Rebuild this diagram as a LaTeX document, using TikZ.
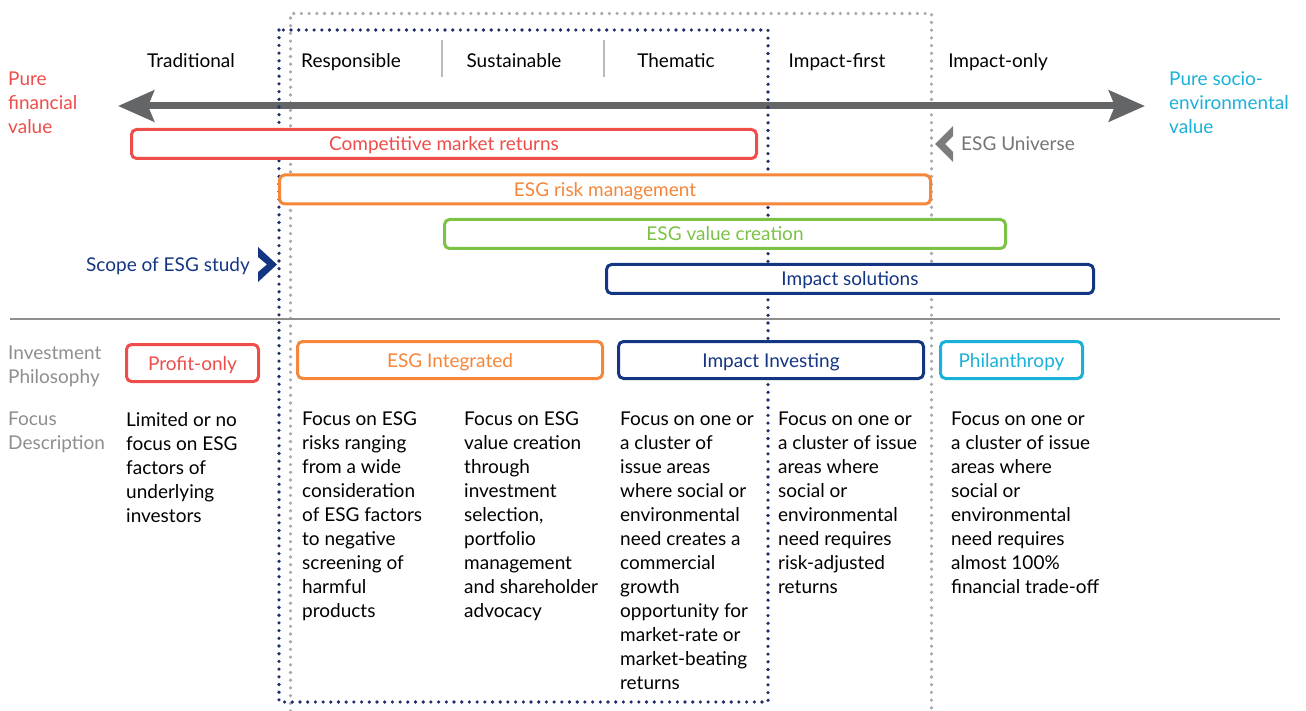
\documentclass[tikz,border=0pt]{standalone}
\usepackage{fontspec}
\setmainfont{Lato}
\usetikzlibrary{arrows.meta}

\definecolor{esgred}{HTML}{EE4D4A}
\definecolor{esgorange}{HTML}{F5863A}
\definecolor{esggreen}{HTML}{7CC244}
\definecolor{esgnavy}{HTML}{143682}
\definecolor{esgcyan}{HTML}{1AB1D8}
\definecolor{arrowgray}{HTML}{646567}
\definecolor{labelgray}{HTML}{8E8E8E}
\definecolor{dotgray}{HTML}{A7A9AC}
\definecolor{dotnavy}{HTML}{1F2D6B}

\tikzset{
  txt/.style={font=\fontsize{19}{24}\selectfont, inner sep=0pt},
  bar/.style={txt, draw=#1, text=#1, line width=3pt, rounded corners=5pt, fill=white,
    minimum height=29pt, text height=14pt, text depth=0pt},
  pbox/.style={bar=#1, minimum height=37pt},
  desc/.style={txt, anchor=north west, align=left, execute at begin node=\strut},
  dotline/.style={line width=3.6pt, line cap=round, dash pattern=on 0pt off 7.7pt},
}

\begin{document}
\begin{tikzpicture}[x=1pt,y=-1pt]
\useasboundingbox (0,0) rectangle (1306,711);

% dotted frames
\draw[dotline, dotgray] (290.5,711) -- (290.5,13.5) -- (931.5,13.5) -- (931.5,711);
% value axis
\coordinate (axL) at (118,106);
\coordinate (axR) at (1145,106);
\draw[arrowgray, line width=7pt, {Stealth[length=36pt,width=31pt,inset=6pt]}-{Stealth[length=36pt,width=31pt,inset=6pt]}] (axL) -- (axR);
\draw[dotline, dotnavy] (279,30) rectangle (768,702);

% separator
\coordinate (sepL) at (10,319);
\coordinate (sepR) at (1280,319);
\draw[labelgray, line width=2pt] (sepL) -- (sepR);

% headers
\node[txt, anchor=base] (trad) at (191,68) {Traditional};
\node[txt, anchor=base] (resp) at (351,68) {Responsible};
\node[txt, anchor=base] (sust) at (514,68) {Sustainable};
\node[txt, anchor=base] (them) at (676,68) {Thematic};
\node[txt, anchor=base] (ifirst) at (837,68) {Impact-first};
\node[txt, anchor=base] (ionly) at (998,68) {Impact-only};
\draw[dotgray!80, line width=2pt] (442,40) -- (442,77);
\draw[dotgray!80, line width=2pt] (604,40) -- (604,77);

\node[desc, esgred] (pfin) at (8,71.5) {Pure\\financial\\value};
\node[desc, esgcyan] (psoc) at (1169,71.5) {Pure socio-\\environmental\\value};

% bars
\node[bar=esgred, minimum width=625pt] (cmr) at (444,144) {Competitive market returns};
\node[bar=esgorange, minimum width=651pt] (erm) at (605,189.5) {ESG risk management};
\node[bar=esggreen, minimum width=561pt] (evc) at (725,234) {ESG value creation};
\node[bar=esgnavy, minimum width=487pt] (isol) at (850,279) {Impact solutions};

% universe / scope markers
\fill[arrowgray!85] (953,126) -- (935,144) -- (953,162) -- (953,152) -- (945,144) -- (953,136) -- cycle;
\node[txt, arrowgray!90, anchor=base west] (univ) at (961,151) {ESG Universe};
\fill[esgnavy] (258,247) -- (277,264.5) -- (258,282) -- (258,272) -- (267,264.5) -- (258,257) -- cycle;
\node[txt, esgnavy, anchor=base east] (scope) at (250,272) {Scope of ESG study};

% philosophy row
\node[desc, labelgray] (philo) at (8,345.5) {Investment\\Philosophy};
\node[pbox=esgred, minimum width=132pt] (profit) at (192.5,363) {Profit-only};
\node[pbox=esgorange, minimum width=305pt] (integ) at (450,360) {ESG Integrated};
\node[pbox=esgnavy, minimum width=305pt] (impinv) at (771,360) {Impact Investing};
\node[pbox=esgcyan, minimum width=142pt] (phil) at (1011.5,360) {Philanthropy};

% focus row
\node[desc, labelgray] (focus) at (8,412) {Focus\\Description};
\node[desc] (d1) at (126,412) {Limited or no\\focus on ESG\\factors of\\underlying\\investors};
\node[desc] (d2) at (302,412) {Focus on ESG\\risks ranging\\from a wide\\consideration\\of ESG factors\\to negative\\screening of\\harmful\\products};
\node[desc] (d3) at (464,412) {Focus on ESG\\value creation\\through\\investment\\selection,\\portfolio\\management\\and shareholder\\advocacy};
\node[desc] (d4) at (620,412) {Focus on one or\\a cluster of\\issue areas\\where social or\\environmental\\need creates a\\commercial\\growth\\opportunity for\\market-rate or\\market-beating\\returns};
\node[desc] (d5) at (778,412) {Focus on one or\\a cluster of issue\\areas where\\social or\\environmental\\need requires\\risk-adjusted\\returns};
\node[desc] (d6) at (951,412) {Focus on one or\\a cluster of issue\\areas where\\social or\\environmental\\need requires\\almost 100\%\\financial trade-off};
\end{tikzpicture}
\end{document}
